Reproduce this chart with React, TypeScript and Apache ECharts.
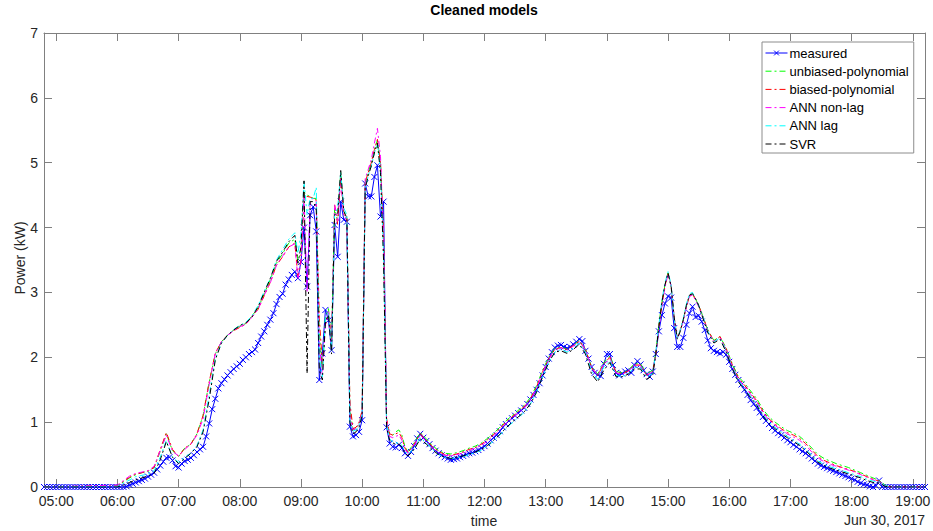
import React, { useEffect, useRef } from "react";
import * as echarts from "echarts";

// ---------- DATA ----------
const title = "Cleaned models";
const xLabel = "time";
const yLabel = "Power (kW)";
const dateLabel = "Jun 30, 2017";
const xMin = "04:48";
const xMax = "19:12";
const xTickLabels = ["05:00","06:00","07:00","08:00","09:00","10:00","11:00","12:00","13:00","14:00","15:00","16:00","17:00","18:00","19:00"];
const yTicks = [0, 1, 2, 3, 4, 5, 6, 7];

// measured: one sample every 3 minutes from 04:48 to 19:12
const measuredStart = "04:48";
const measuredStepMin = 3;
const measured = [
  0, 0, 0, 0,
  0, 0, 0, 0, 0, 0, 0, 0, 0, 0, 0, 0, 0, 0, 0, 0, 0, 0, 0, 0,
  0, 0, 0, 0.01, 0.03, 0.05, 0.07, 0.09, 0.11, 0.13, 0.16, 0.19, 0.22, 0.27, 0.33, 0.39, 0.45, 0.46, 0.41, 0.32,
  0.30, 0.36, 0.40, 0.42, 0.45, 0.49, 0.54, 0.58, 0.62, 0.78, 0.98, 1.20, 1.36, 1.52, 1.60, 1.66, 1.72, 1.77, 1.82, 1.86,
  1.90, 1.96, 2.00, 2.05, 2.08, 2.12, 2.22, 2.32, 2.40, 2.50, 2.58, 2.68, 2.82, 2.93, 2.98, 3.12, 3.20, 3.27, 3.32, 3.22,
  3.47, 4.00, 3.09, 4.19, 4.32, 3.94, 1.65, 2.06, 2.73, 2.57, 2.11, 4.04, 3.55, 4.40, 4.12, 4.09, 0.93, 0.78, 0.80, 0.85,
  1.03, 4.68, 4.48, 4.48, 4.78, 4.96, 4.17, 4.40, 0.92, 0.67, 0.62, 0.61, 0.65, 0.60, 0.52, 0.48, 0.54, 0.63, 0.75, 0.82,
  0.76, 0.71, 0.66, 0.60, 0.56, 0.52, 0.49, 0.46, 0.44, 0.42, 0.43, 0.44, 0.46, 0.48, 0.50, 0.52, 0.53, 0.55, 0.57, 0.60,
  0.63, 0.67, 0.72, 0.76, 0.80, 0.86, 0.92, 0.97, 1.02, 1.06, 1.10, 1.14, 1.18, 1.22, 1.28, 1.35, 1.42, 1.50, 1.60, 1.72,
  1.85, 1.98, 2.08, 2.15, 2.18, 2.19, 2.16, 2.14, 2.16, 2.20, 2.24, 2.28, 2.25, 2.10, 1.98, 1.85, 1.76, 1.73, 1.71, 1.90,
  2.05, 2.05, 1.88, 1.76, 1.72, 1.75, 1.78, 1.80, 1.76, 1.88, 1.94, 1.89, 1.80, 1.74, 1.70, 1.78, 2.05, 2.40, 2.65, 2.83,
  2.94, 2.92, 2.45, 2.16, 2.16, 2.30, 2.50, 2.68, 2.78, 2.62, 2.64, 2.55, 2.42, 2.26, 2.14, 2.10, 2.08, 2.06, 2.08, 2.04,
  1.93, 1.82, 1.73, 1.65, 1.58, 1.50, 1.42, 1.34, 1.28, 1.22, 1.15, 1.08, 1.02, 0.97, 0.91, 0.87, 0.83, 0.80, 0.76, 0.72,
  0.69, 0.65, 0.62, 0.58, 0.55, 0.52, 0.48, 0.44, 0.40, 0.36, 0.33, 0.31, 0.29, 0.27, 0.25, 0.23, 0.21, 0.19, 0.17, 0.15,
  0.13, 0.11, 0.08, 0.06, 0.04, 0.03, 0.01, 0, 0.02, 0.10, 0, 0, 0, 0, 0, 0, 0, 0, 0, 0,
  0, 0, 0, 0, 0,
];

// model predictions, sampled at these times
const modelTimes = [
  "04:48","06:00","06:06","06:12","06:18","06:24","06:30","06:36","06:42","06:48","06:54",
  "07:00","07:06","07:12","07:18","07:24","07:30","07:36","07:42","07:48","07:54",
  "08:00","08:06","08:12","08:18","08:24","08:30","08:36","08:42","08:48","08:54",
  "08:57","09:00","09:03","09:06","09:09","09:12","09:15","09:18","09:21","09:24","09:27","09:30","09:33","09:36","09:39","09:42","09:45","09:48","09:51","09:54","09:57",
  "10:00","10:03","10:06","10:09","10:12","10:15","10:18","10:21","10:24","10:27","10:30","10:33","10:36","10:39","10:42","10:45",
  "10:51","10:57","11:03","11:09","11:15","11:21","11:27","11:33","11:39","11:45","11:51","11:57",
  "12:03","12:09","12:15","12:21","12:27","12:33","12:39","12:45","12:51","12:57",
  "13:03","13:09","13:15","13:21","13:27","13:33","13:39","13:45","13:51","13:57",
  "14:03","14:09","14:15","14:21","14:27","14:33","14:39","14:45","14:48","14:51","14:54","14:57",
  "15:00","15:03","15:06","15:09","15:12","15:15","15:18","15:21","15:24","15:27","15:30","15:33","15:39","15:45","15:51","15:57",
  "16:03","16:09","16:15","16:21","16:27","16:33","16:39","16:45","16:51","16:57",
  "17:03","17:09","17:15","17:21","17:27","17:33","17:39","17:45","17:51","17:57",
  "18:03","18:09","18:15","18:21","18:27","18:33","18:39","19:12",
];

const unbiasedPolynomial = [
  0, 0.02, 0.08, 0.14, 0.19, 0.22, 0.24, 0.30, 0.55, 0.82, 0.56,
  0.47, 0.60, 0.66, 0.82, 1.10, 1.62, 2.05, 2.24, 2.34, 2.42,
  2.48, 2.52, 2.64, 2.76, 2.98, 3.20, 3.45, 3.60, 3.76, 3.82,
  3.50, 3.60, 4.55, 4.50, 4.48, 4.45, 4.45, 2.40, 1.80, 2.60, 2.75, 2.20, 4.30, 4.10, 4.85, 4.25, 4.15, 1.20, 0.88, 0.90, 0.98,
  1.15, 4.70, 4.85, 5.00, 5.20, 5.35, 5.00, 3.80, 1.00, 0.80, 0.80, 0.85, 0.88, 0.80, 0.62, 0.54,
  0.68, 0.84, 0.74, 0.64, 0.56, 0.52, 0.51, 0.53, 0.56, 0.60, 0.63, 0.68,
  0.75, 0.83, 0.92, 1.02, 1.10, 1.18, 1.26, 1.38, 1.56, 1.80,
  2.00, 2.14, 2.16, 2.12, 2.18, 2.26, 2.12, 1.85, 1.74, 1.92,
  2.02, 1.78, 1.76, 1.80, 1.90, 1.90, 1.74, 1.80, 2.08, 2.50, 2.85, 3.12,
  3.30, 3.08, 2.60, 2.30, 2.42, 2.58, 2.80, 2.95, 2.98, 2.90, 2.80, 2.68, 2.42, 2.26, 2.32, 2.14,
  1.90, 1.70, 1.60, 1.48, 1.36, 1.20, 1.08, 1.00, 0.93, 0.87,
  0.83, 0.78, 0.70, 0.60, 0.50, 0.44, 0.40, 0.36, 0.33, 0.30,
  0.26, 0.22, 0.18, 0.14, 0.10, 0.03, 0, 0,
];

const biasedPolynomial = [
  0, 0.02, 0.09, 0.15, 0.20, 0.22, 0.25, 0.30, 0.58, 0.84, 0.58,
  0.47, 0.60, 0.66, 0.82, 1.10, 1.62, 2.06, 2.24, 2.34, 2.41,
  2.46, 2.51, 2.63, 2.74, 2.95, 3.16, 3.42, 3.55, 3.70, 3.76,
  3.25, 3.50, 4.45, 4.48, 4.47, 4.45, 4.42, 2.60, 1.90, 2.50, 2.70, 2.25, 4.35, 4.05, 4.80, 4.20, 4.15, 1.30, 0.90, 0.92, 1.00,
  1.18, 4.70, 4.85, 5.00, 5.20, 5.36, 5.00, 3.90, 1.05, 0.82, 0.80, 0.82, 0.84, 0.76, 0.60, 0.53,
  0.66, 0.82, 0.72, 0.62, 0.55, 0.50, 0.49, 0.51, 0.54, 0.58, 0.61, 0.66,
  0.73, 0.81, 0.90, 1.00, 1.08, 1.16, 1.24, 1.36, 1.54, 1.78,
  1.98, 2.12, 2.15, 2.12, 2.18, 2.25, 2.12, 1.84, 1.72, 1.90,
  2.00, 1.77, 1.75, 1.79, 1.88, 1.88, 1.72, 1.78, 2.05, 2.46, 2.82, 3.10,
  3.30, 3.10, 2.62, 2.30, 2.42, 2.58, 2.78, 2.94, 2.97, 2.90, 2.80, 2.68, 2.42, 2.25, 2.32, 2.13,
  1.88, 1.68, 1.57, 1.45, 1.33, 1.17, 1.05, 0.97, 0.90, 0.84,
  0.80, 0.75, 0.67, 0.57, 0.47, 0.41, 0.37, 0.33, 0.30, 0.27,
  0.24, 0.20, 0.16, 0.12, 0.09, 0.02, 0, 0,
];

const annNonLag = [
  0, 0.03, 0.10, 0.17, 0.21, 0.23, 0.25, 0.32, 0.56, 0.80, 0.55,
  0.48, 0.58, 0.66, 0.80, 1.05, 1.58, 2.06, 2.24, 2.34, 2.41,
  2.47, 2.51, 2.62, 2.74, 2.96, 3.15, 3.42, 3.56, 3.70, 3.75,
  3.20, 3.45, 4.50, 3.00, 4.40, 4.45, 4.40, 2.20, 1.70, 2.50, 2.70, 2.15, 4.35, 4.10, 4.75, 4.20, 4.10, 1.10, 0.88, 0.90, 0.97,
  1.15, 4.75, 4.90, 5.05, 5.30, 5.53, 5.10, 3.80, 1.00, 0.78, 0.76, 0.78, 0.80, 0.72, 0.58, 0.52,
  0.64, 0.80, 0.70, 0.60, 0.53, 0.49, 0.48, 0.50, 0.52, 0.56, 0.60, 0.64,
  0.71, 0.79, 0.88, 0.98, 1.06, 1.14, 1.22, 1.34, 1.52, 1.76,
  1.97, 2.12, 2.15, 2.11, 2.17, 2.24, 2.12, 1.84, 1.72, 1.88,
  1.98, 1.76, 1.74, 1.78, 1.88, 1.87, 1.72, 1.78, 2.05, 2.45, 2.80, 3.08,
  3.28, 3.10, 2.60, 2.30, 2.40, 2.56, 2.78, 2.94, 2.96, 2.88, 2.78, 2.66, 2.40, 2.24, 2.30, 2.12,
  1.87, 1.66, 1.55, 1.43, 1.31, 1.15, 1.03, 0.95, 0.88, 0.82,
  0.77, 0.72, 0.64, 0.54, 0.45, 0.39, 0.35, 0.32, 0.29, 0.26,
  0.23, 0.19, 0.15, 0.11, 0.08, 0.02, 0, 0,
];

const annLag = [
  0, 0.01, 0.06, 0.11, 0.16, 0.18, 0.20, 0.25, 0.46, 0.72, 0.46,
  0.38, 0.46, 0.52, 0.64, 0.88, 1.42, 1.98, 2.22, 2.34, 2.43,
  2.49, 2.54, 2.64, 2.80, 3.02, 3.22, 3.50, 3.66, 3.82, 3.92,
  3.60, 3.90, 4.71, 4.20, 4.45, 4.45, 4.62, 2.00, 1.70, 2.60, 2.70, 2.10, 4.20, 4.30, 4.85, 4.30, 4.20, 1.00, 0.86, 0.88, 0.95,
  1.12, 4.60, 4.80, 4.95, 5.15, 5.30, 4.90, 3.60, 0.95, 0.74, 0.70, 0.68, 0.68, 0.64, 0.55, 0.50,
  0.60, 0.76, 0.68, 0.58, 0.50, 0.46, 0.44, 0.45, 0.47, 0.50, 0.53, 0.57,
  0.63, 0.71, 0.80, 0.90, 0.99, 1.07, 1.15, 1.28, 1.46, 1.70,
  1.92, 2.08, 2.12, 2.08, 2.14, 2.22, 2.08, 1.78, 1.66, 1.85,
  1.95, 1.72, 1.70, 1.75, 1.84, 1.84, 1.70, 1.75, 2.08, 2.50, 2.88, 3.15,
  3.32, 3.12, 2.60, 2.28, 2.42, 2.60, 2.82, 2.98, 3.00, 2.90, 2.80, 2.68, 2.40, 2.24, 2.30, 2.10,
  1.85, 1.64, 1.52, 1.40, 1.28, 1.12, 1.00, 0.92, 0.85, 0.78,
  0.72, 0.66, 0.58, 0.49, 0.40, 0.35, 0.31, 0.28, 0.25, 0.22,
  0.19, 0.16, 0.12, 0.09, 0.08, 0.02, 0, 0,
];

const svr = [
  0, 0.00, 0.03, 0.07, 0.11, 0.14, 0.17, 0.21, 0.42, 0.70, 0.46,
  0.36, 0.44, 0.52, 0.62, 0.85, 1.35, 1.96, 2.22, 2.34, 2.42,
  2.49, 2.53, 2.62, 2.78, 3.00, 3.22, 3.48, 3.62, 3.78, 3.88,
  3.45, 3.70, 4.72, 1.75, 4.40, 4.40, 4.30, 1.80, 1.65, 2.55, 2.65, 2.05, 4.20, 4.20, 4.88, 4.25, 4.15, 1.00, 0.82, 0.85, 0.92,
  1.10, 4.60, 4.80, 4.95, 5.15, 5.30, 4.85, 3.50, 0.92, 0.72, 0.68, 0.66, 0.66, 0.62, 0.52, 0.48,
  0.58, 0.74, 0.66, 0.57, 0.50, 0.46, 0.44, 0.46, 0.48, 0.51, 0.54, 0.58,
  0.64, 0.72, 0.81, 0.91, 1.00, 1.08, 1.16, 1.28, 1.46, 1.70,
  1.92, 2.08, 2.10, 2.06, 2.12, 2.20, 2.05, 1.74, 1.62, 1.80,
  1.92, 1.70, 1.70, 1.74, 1.82, 1.82, 1.66, 1.72, 2.05, 2.48, 2.85, 3.12,
  3.30, 3.10, 2.62, 2.28, 2.40, 2.58, 2.80, 2.96, 2.98, 2.90, 2.80, 2.66, 2.38, 2.22, 2.28, 2.08,
  1.83, 1.62, 1.50, 1.38, 1.26, 1.10, 0.98, 0.90, 0.82, 0.76,
  0.70, 0.64, 0.56, 0.47, 0.38, 0.33, 0.29, 0.26, 0.23, 0.20,
  0.17, 0.14, 0.10, 0.07, 0.06, 0.01, 0, 0,
];

const seriesNames = ["measured", "unbiased-polynomial", "biased-polynomial", "ANN non-lag", "ANN lag", "SVR"];
const seriesColors = ["#0000ff", "#00ff00", "#ff0000", "#ff00ff", "#00ffff", "#000000"];

// ---------- HELPERS ----------
const toMin = (s: string) => parseInt(s.slice(0, 2), 10) * 60 + parseInt(s.slice(3, 5), 10);
const fmt = (m: number) => {
  const h = Math.floor(m / 60);
  const mm = Math.round(m - h * 60);
  return String(h).padStart(2, "0") + ":" + String(mm).padStart(2, "0");
};

export default function App() {
  const ref = useRef<HTMLDivElement>(null);

  useEffect(() => {
    if (!ref.current) return;
    const chart = echarts.init(ref.current, undefined, { renderer: "svg" });

    const start = toMin(measuredStart);
    const measuredData = measured.map((v, i) => [start + i * measuredStepMin, v]);
    const mt = modelTimes.map(toMin);
    const models = [unbiasedPolynomial, biasedPolynomial, annNonLag, annLag, svr];
    const tickVals = xTickLabels.map(toMin);

    const font = "'Liberation Sans', Arial, Helvetica, sans-serif";
    const axisColor = "#808080";
    const labelColor = "#262626";
    const dashDot = [6, 3, 2, 3];

    const xBase = {
      type: "value",
      min: toMin(xMin),
      max: toMin(xMax),
      splitLine: { show: false },
      axisLine: { show: true, onZero: false, lineStyle: { color: axisColor, width: 1 } },
    };
    const yBase = {
      type: "value",
      min: yTicks[0],
      max: yTicks[yTicks.length - 1],
      interval: 1,
      splitLine: { show: false },
      axisLine: { show: true, lineStyle: { color: axisColor, width: 1 } },
      axisTick: { show: true, inside: true, length: 8, lineStyle: { color: axisColor } },
    };

    const option: any = {
      animation: false,
      backgroundColor: "#ffffff",
      textStyle: { fontFamily: font },
      grid: { left: 44, top: 33, right: 8, bottom: 44, containLabel: false, outerBoundsMode: "none" },
      xAxis: [
        {
          ...xBase,
          position: "bottom",
          axisTick: { show: true, inside: true, length: 8, customValues: tickVals, lineStyle: { color: axisColor } },
          axisLabel: {
            show: true,
            customValues: tickVals,
            formatter: (v: number) => fmt(v),
            color: labelColor,
            fontSize: 14,
            margin: 7,
            fontFamily: font,
          },
        },
        {
          ...xBase,
          position: "top",
          axisTick: { show: true, inside: true, length: 8, customValues: tickVals, lineStyle: { color: axisColor } },
          axisLabel: { show: false },
        },
      ],
      yAxis: [
        {
          ...yBase,
          position: "left",
          axisLabel: { color: labelColor, fontSize: 14, margin: 6, fontFamily: font },
        },
        {
          ...yBase,
          position: "right",
          axisLabel: { show: false },
        },
      ],
      legend: {
        orient: "vertical",
        left: 762,
        top: 42,
        data: seriesNames.map((n, k) =>
          k === 0
            ? {
                name: n,
                itemStyle: { opacity: 1, color: seriesColors[0], borderColor: seriesColors[0], borderWidth: 1 },
                lineStyle: { color: seriesColors[0], width: 1, type: "solid" },
              }
            : { name: n, lineStyle: { color: seriesColors[k], width: 1, type: dashDot } }
        ),
        itemWidth: 22,
        itemHeight: 6,
        itemGap: 4.2,
        padding: [4, 5, 2, 3],
        backgroundColor: "#ffffff",
        borderColor: "#8c8c8c",
        borderWidth: 1,
        borderRadius: 0,
        itemStyle: { opacity: 0 },
        textStyle: { fontSize: 13, color: "#000000", fontFamily: font, padding: [0, 0, 0, -3], lineHeight: 14 },
      },
      graphic: [
        {
          type: "text",
          x: 484,
          y: 10,
          style: { text: title, fontSize: 14, fontWeight: "bold", fill: "#000", align: "center", verticalAlign: "middle", fontFamily: font },
        },
        {
          type: "text",
          x: 20,
          y: 258,
          rotation: Math.PI / 2,
          style: { text: yLabel, fontSize: 14, fill: labelColor, align: "center", verticalAlign: "middle", fontFamily: font },
        },
        {
          type: "text",
          x: 484,
          y: 521,
          style: { text: xLabel, fontSize: 14, fill: labelColor, align: "center", verticalAlign: "middle", fontFamily: font },
        },
        {
          type: "text",
          x: 925,
          y: 520,
          style: { text: dateLabel, fontSize: 14, fill: labelColor, align: "right", verticalAlign: "middle", fontFamily: font },
        },
      ],
      series: [
        {
          name: seriesNames[0],
          type: "line",
          data: measuredData,
          color: seriesColors[0],
          symbol: "path://M0,0L10,10M10,0L0,10",
          symbolSize: 6,
          showSymbol: true,
          itemStyle: { color: seriesColors[0], borderColor: seriesColors[0], borderWidth: 1 },
          lineStyle: { color: seriesColors[0], width: 1 },
          z: 2,
        },
        ...models.map((vals, k) => ({
          name: seriesNames[k + 1],
          type: "line",
          data: vals.map((v, i) => [mt[i], v]),
          color: seriesColors[k + 1],
          showSymbol: false,
          symbol: "none",
          lineStyle: { color: seriesColors[k + 1], width: 1, type: dashDot },
          z: 3,
        })),
      ],
    };

    chart.setOption(option);
    return () => chart.dispose();
  }, []);

  return (
    <div
      ref={ref}
      style={{ position: "fixed", left: 0, top: 0, width: 933, height: 531, background: "#fff" }}
    />
  );
}
